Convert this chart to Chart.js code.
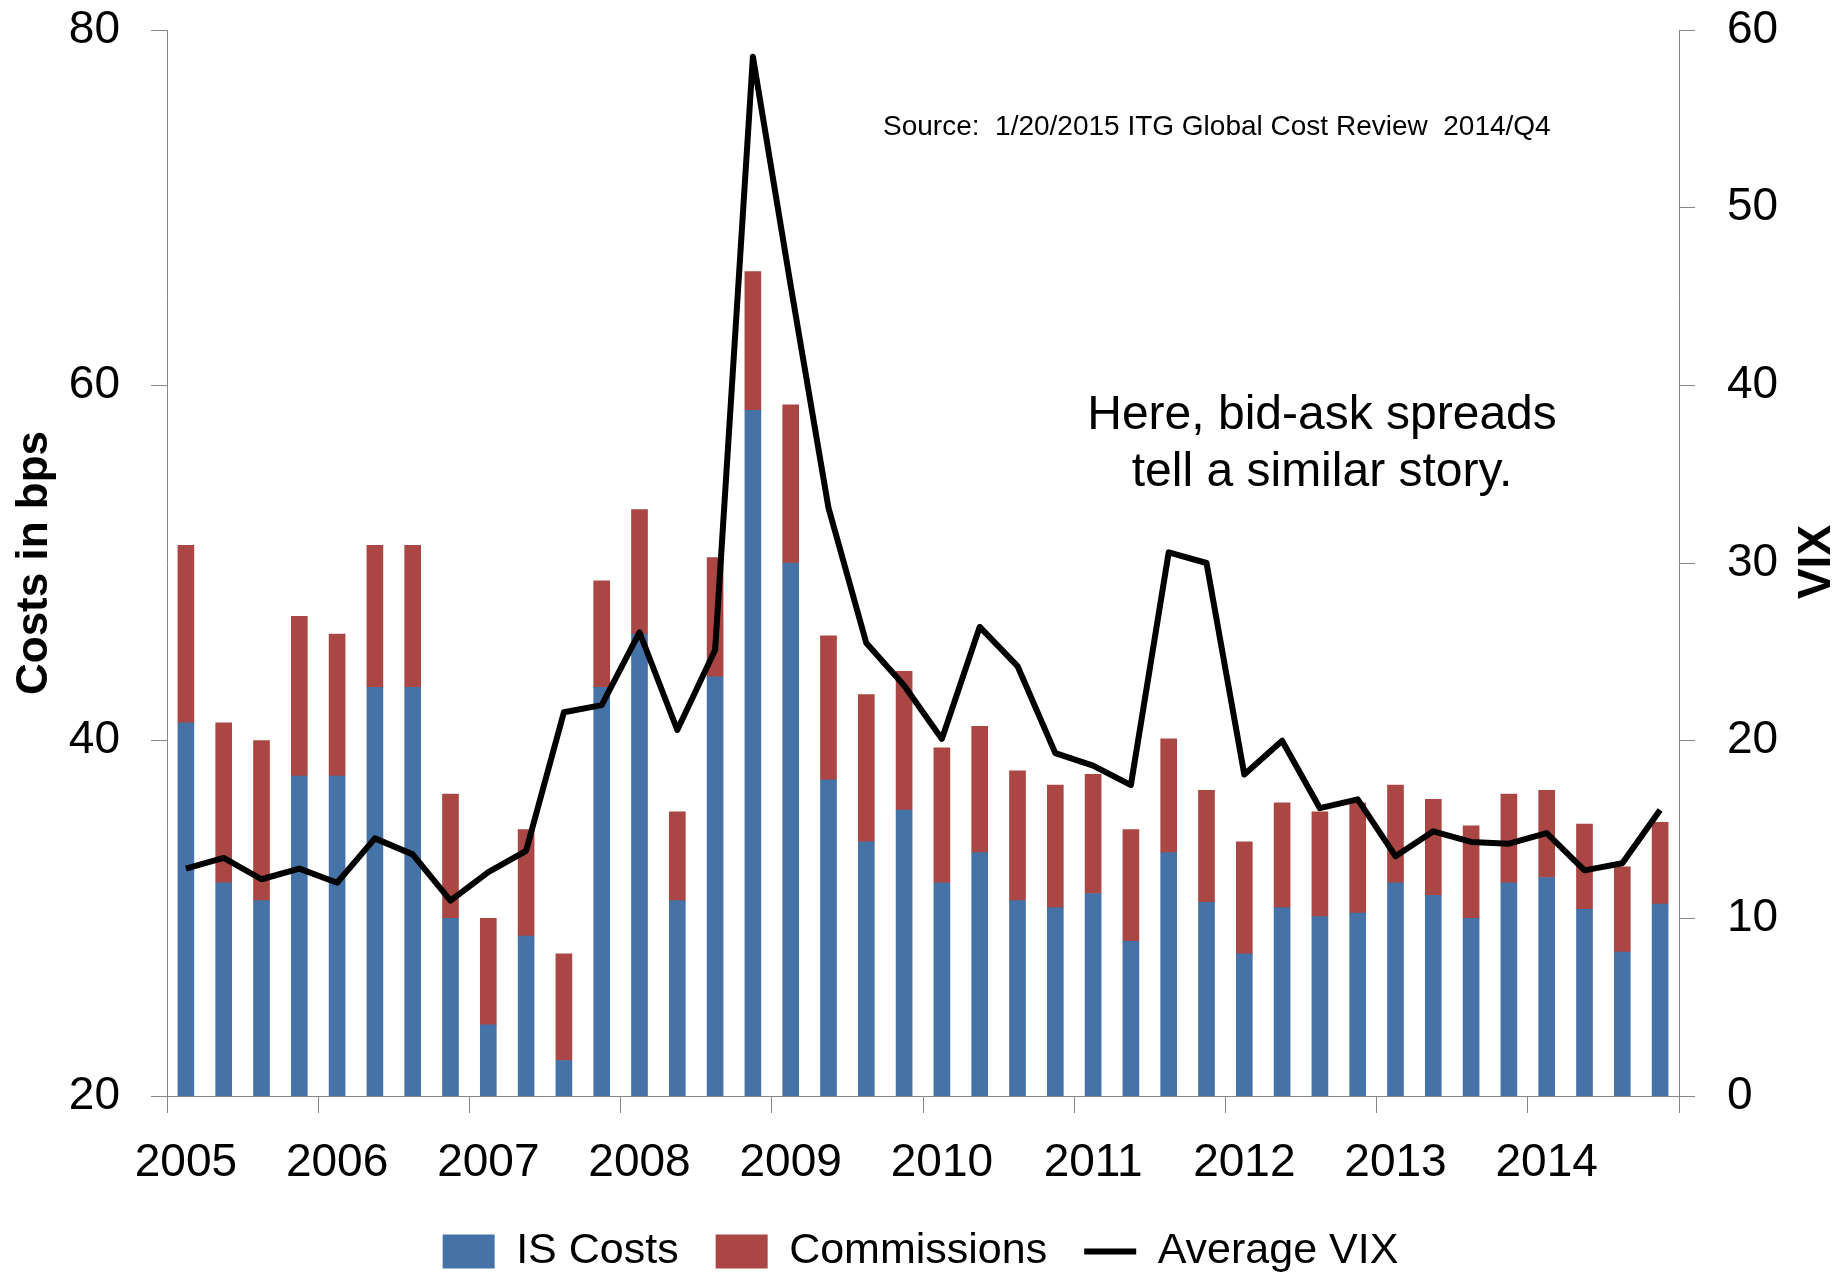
<!DOCTYPE html>
<html>
<head>
<meta charset="utf-8">
<title>IS Costs, Commissions and Average VIX</title>
<script src="https://cdn.jsdelivr.net/npm/chart.js@4.4.1/dist/chart.umd.min.js"></script>
<style>
  html, body { margin: 0; padding: 0; background: #fff; overflow: hidden; }
  canvas { display: block; }
</style>
</head>
<body>
<canvas id="chart" width="1841" height="1275"></canvas>
<script>
// quarterly data, 2005 Q1 .. 2014 Q4
const quarters = [
  '2005 Q1', '2005 Q2', '2005 Q3', '2005 Q4',
  '2006 Q1', '2006 Q2', '2006 Q3', '2006 Q4',
  '2007 Q1', '2007 Q2', '2007 Q3', '2007 Q4',
  '2008 Q1', '2008 Q2', '2008 Q3', '2008 Q4',
  '2009 Q1', '2009 Q2', '2009 Q3', '2009 Q4',
  '2010 Q1', '2010 Q2', '2010 Q3', '2010 Q4',
  '2011 Q1', '2011 Q2', '2011 Q3', '2011 Q4',
  '2012 Q1', '2012 Q2', '2012 Q3', '2012 Q4',
  '2013 Q1', '2013 Q2', '2013 Q3', '2013 Q4',
  '2014 Q1', '2014 Q2', '2014 Q3', '2014 Q4'
];
const yearLabels = ['2005', '2006', '2007', '2008', '2009', '2010', '2011', '2012', '2013', '2014'];

const isCosts = [
  41, 32, 31, 38, 38, 43, 43, 30, 24, 29,
  22, 43, 46, 31, 43.6, 58.6, 50, 37.8, 34.3, 36.1,
  32, 33.7, 31, 30.6, 31.4, 28.7, 33.7, 30.9, 28, 30.6,
  30.1, 30.3, 32, 31.3, 30, 32, 32.3, 30.5, 28.1, 30.8
];
const commissions = [
  10, 9, 9, 9, 8, 8, 8, 7, 6, 6,
  6, 6, 7, 5, 6.7, 7.8, 8.9, 8.1, 8.3, 7.8,
  7.6, 7.1, 7.3, 6.9, 6.7, 6.3, 6.4, 6.3, 6.3, 5.9,
  5.9, 6.2, 5.5, 5.4, 5.2, 5.0, 4.9, 4.8, 4.8, 4.6
];
const averageVix = [
  12.8, 13.4, 12.2, 12.8, 12.0, 14.5, 13.6, 11.0, 12.6, 13.8,
  21.6, 22.0, 26.1, 20.6, 25.1, 58.5, 45.6, 33.1, 25.5, 23.1,
  20.1, 26.4, 24.2, 19.3, 18.6, 17.5, 30.6, 30.0, 18.1, 20.0,
  16.2, 16.7, 13.5, 14.9, 14.3, 14.2, 14.8, 12.7, 13.1, 16.1
];

const blue = '#4572A7';
const red = '#AA4643';
const axisGray = '#868686';
const sans = "'Liberation Sans', Arial, sans-serif";

// free text on the chart: source note, comment and the VIX axis title
const notes = {
  id: 'notes',
  afterDraw(chart) {
    const ctx = chart.ctx;
    ctx.save();
    ctx.fillStyle = '#000';
    ctx.textBaseline = 'middle';

    ctx.font = '28px ' + sans;
    ctx.textAlign = 'left';
    ctx.fillText('Source:  1/20/2015 ITG Global Cost Review  2014/Q4', 883, 127);

    ctx.font = '48px ' + sans;
    ctx.textAlign = 'center';
    ctx.fillText('Here, bid-ask spreads', 1322, 416);
    ctx.fillText('tell a similar story.', 1322, 473);

    ctx.translate(1817, 562);
    ctx.rotate(-Math.PI / 2);
    ctx.font = 'bold 46px ' + sans;
    ctx.fillText('VIX', 0, 0);
    ctx.restore();
  }
};

// fixed axis width, and no extra room reserved for the end labels
const fixAxis = (width) => (s) => {
  s.width = width;
  s.paddingTop = 0;
  s.paddingBottom = 0;
};

const ctx = document.getElementById('chart').getContext('2d');

new Chart(ctx, {
  type: 'bar',
  data: {
    labels: quarters,
    datasets: [
      {
        label: 'IS Costs',
        data: isCosts,
        backgroundColor: blue,
        pointStyle: 'rect',
        yAxisID: 'y',
        order: 1
      },
      {
        label: 'Commissions',
        data: commissions,
        backgroundColor: red,
        pointStyle: 'rect',
        yAxisID: 'y',
        order: 1
      },
      {
        type: 'line',
        label: 'Average VIX',
        data: averageVix,
        borderColor: '#000',
        backgroundColor: '#000',
        borderWidth: 6,
        borderJoinStyle: 'round',
        pointRadius: 0,
        pointStyle: 'line',
        tension: 0,
        yAxisID: 'y2',
        order: 0
      }
    ]
  },
  options: {
    responsive: false,
    animation: false,
    devicePixelRatio: 1,
    layout: { padding: { top: 30, left: 0, right: 0, bottom: -8 } },
    barThickness: 16,
    plugins: {
      tooltip: { enabled: false },
      legend: {
        position: 'bottom',
        labels: {
          usePointStyle: true,
          pointStyleWidth: 52,
          boxHeight: 34,
          padding: 37,
          color: '#000',
          font: { family: sans, size: 43 },
          sort: (a, b) => a.datasetIndex - b.datasetIndex
        }
      }
    },
    scales: {
      x: {
        stacked: true,
        offset: true,
        grid: {
          offset: true,
          drawOnChartArea: false,
          drawTicks: true,
          tickLength: 17,
          // a tick mark only at year boundaries
          color: (c) => (c.index === undefined || c.index % 4 === 0) ? axisGray : 'rgba(0,0,0,0)'
        },
        border: { display: true, color: axisGray },
        ticks: {
          autoSkip: false,
          maxRotation: 0,
          padding: 23,
          color: '#000',
          font: { family: sans, size: 46 },
          callback: (value, index) => index % 4 === 0 ? yearLabels[index / 4] : ''
        },
        afterFit: (s) => { s.height = 97; }
      },
      y: {
        stacked: true,
        position: 'left',
        min: 20,
        max: 80,
        ticks: {
          stepSize: 20,
          padding: 31,
          color: '#000',
          font: { family: sans, size: 46 }
        },
        grid: { drawOnChartArea: false, drawTicks: true, tickLength: 16, color: axisGray },
        border: { display: true, color: axisGray },
        title: {
          display: true,
          text: 'Costs in bps',
          color: '#000',
          padding: { top: 8, bottom: 0 },
          font: { family: sans, size: 44, weight: 'bold' }
        },
        afterFit: fixAxis(167)
      },
      y2: {
        position: 'right',
        min: 0,
        max: 60,
        ticks: {
          stepSize: 10,
          padding: 32,
          color: '#000',
          font: { family: sans, size: 46 }
        },
        grid: { drawOnChartArea: false, drawTicks: true, tickLength: 16, color: axisGray },
        border: { display: true, color: axisGray },
        afterFit: fixAxis(162)
      }
    }
  },
  plugins: [notes]
});
</script>
</body>
</html>
